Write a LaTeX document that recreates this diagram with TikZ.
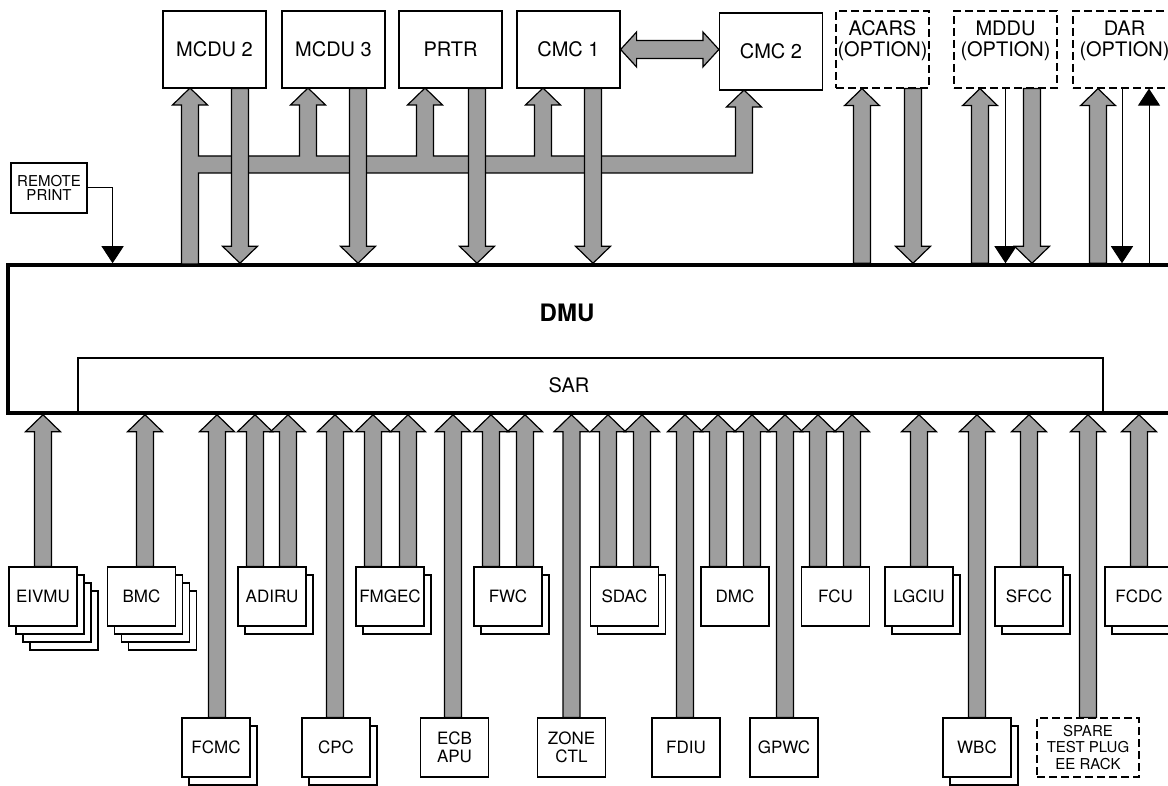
\documentclass[tikz,border=0pt]{standalone}
\usepackage{fontspec}
\setmainfont{TeX Gyre Heros}
\usetikzlibrary{arrows.meta,calc,shadows}

\tikzset{
  unit/.style={draw, fill=white, line width=1.2pt, inner sep=0pt, align=center},
  topunit/.style={unit, minimum width=103pt, minimum height=77pt, font=\fontsize{20}{19}\selectfont},
  botunit/.style={unit, minimum width=68pt, minimum height=59pt, font=\fontsize{17}{18}\selectfont},
  optunit/.style={dash pattern=on 8pt off 4pt},
  twin/.style={general shadow={shadow xshift=7pt, shadow yshift=-8pt, fill=white, draw}},
  quad/.style={general shadow={shadow xshift=21pt, shadow yshift=-24pt, fill=white, draw},
               general shadow={shadow xshift=14pt, shadow yshift=-16pt, fill=white, draw},
               twin},
  busarrow/.style={draw, fill=black!38, line width=1.2pt, line join=miter},
  sig/.style={line width=1pt, -{Triangle[width=22pt,length=17pt]}},
}

% fat bus arrow: [x offset] tail, tip
\newcommand\fatarrow[3][0]{%
  \path[busarrow] let \p1=($(#2)+(#1,0)$), \p2=(#3),
      \p3=($(\x1,\y2)!17pt!(\x1,\y1)$) in
    (\x1-8.5pt,\y1) -- (\x1-8.5pt,\y3) -- (\x1-17.5pt,\y3) -- (\x1,\y2)
    -- (\x1+17.5pt,\y3) -- (\x1+8.5pt,\y3) -- (\x1+8.5pt,\y1) -- cycle;}
\newcommand\optlabel[1]{\raisebox{8pt}[\height][\depth]{\begin{tabular}{@{}c@{}}#1\\(OPTION)\end{tabular}}}

\begin{document}
\begin{tikzpicture}[x=1pt,y=-1pt]
\useasboundingbox (0,0) rectangle (1168,786);
\clip (0,0) rectangle (1168,786);

% top row
\node[topunit] (mcdu2) at (214.5,49.5) {MCDU 2};
\node[topunit] (mcdu3) at (333.5,49.5) {MCDU 3};
\node[topunit] (prtr) at (450.5,49.5) {PRTR};
\node[topunit] (cmc1) at (568.5,49.5) {CMC 1};
\node[topunit] (cmc2) at (771,51.5) {CMC 2};
\node[topunit,optunit,minimum width=93pt] (acars) at (882.5,49.5) {\optlabel{ACARS}};
\node[topunit,optunit] (mddu) at (1005.5,49.5) {\optlabel{MDDU}};
\node[topunit,optunit] (dar) at (1124.5,49.5) {\optlabel{DAR}};
\node[unit, minimum width=76pt, minimum height=50pt, font=\fontsize{15}{13.5}\selectfont] (remote) at (49,188) {REMOTE\\PRINT};

% DMU / SAR
\node[draw, line width=3.5pt, minimum width=1200pt, minimum height=148pt, inner sep=0pt] (dmu) at (608,339) {};
\node[draw, line width=1.2pt, minimum width=1025pt, minimum height=55pt, inner sep=0pt] (sar) at (590.5,385.5) {};
\node[font=\fontsize{24}{24}\bfseries\selectfont] (dmulbl) at (567,313) {DMU};
\node[font=\fontsize{20}{20}\selectfont] (sarlbl) at (569,385) {SAR};

% bottom rows
\node[botunit,quad] (eivmu) at (43,596.5) {EIVMU};
\node[botunit,quad] (bmc) at (141.5,596.5) {BMC};
\node[botunit,twin] (fcmc) at (216,747.5) {FCMC};
\node[botunit,twin] (adiru) at (272,596.5) {ADIRU};
\node[botunit,twin] (cpc) at (336,747.5) {CPC};
\node[botunit,twin] (fmgec) at (390,596.5) {FMGEC};
\node[botunit] (ecbapu) at (454.5,747.5) {ECB\\APU};
\node[botunit,twin] (fwc) at (508,596.5) {FWC};
\node[botunit] (zonectl) at (571.5,747.5) {ZONE\\CTL};
\node[botunit,twin] (sdac) at (624.5,596.5) {SDAC};
\node[botunit] (fdiu) at (686,747.5) {FDIU};
\node[botunit] (dmc) at (735,596.5) {DMC};
\node[botunit] (gpwc) at (784,747.5) {GPWC};
\node[botunit] (fcu) at (835.5,596.5) {FCU};
\node[botunit,twin] (lgciu) at (919,596.5) {LGCIU};
\node[botunit,twin] (wbc) at (977,747.5) {WBC};
\node[botunit,twin] (sfcc) at (1029,596.5) {SFCC};
\node[botunit,optunit,minimum width=102pt,font=\fontsize{15}{16.5}\selectfont] (spare) at (1088,747.5) {SPARE\\TEST PLUG\\EE RACK};
\node[botunit,twin] (fcdc) at (1139,596.5) {FCDC};

% common bus to MCDU / PRTR / CMC
\path[busarrow] (181.5,264) -- (181.5,105) -- (172.5,105) -- (190,88) -- (207.5,105) -- (198.5,105)
  -- (198.5,156) -- (299.5,156) -- (299.5,105) -- (290.5,105) -- (308,88) -- (325.5,105) -- (316.5,105)
  -- (316.5,156) -- (416.5,156) -- (416.5,105) -- (407.5,105) -- (425,88) -- (442.5,105) -- (433.5,105)
  -- (433.5,156) -- (534.5,156) -- (534.5,105) -- (525.5,105) -- (543,88) -- (560.5,105) -- (551.5,105)
  -- (551.5,156) -- (735.5,156) -- (735.5,107) -- (726.5,107) -- (744,90) -- (761.5,107) -- (752.5,107)
  -- (752.5,173) -- (198.5,173) -- (198.5,264) -- cycle;

\path[busarrow] let \p1=(cmc1.east), \p2=(cmc2.west) in
  (\x1,\y1) -- (\x1+16pt,\y1+17.5pt) -- (\x1+16pt,\y1+9pt) -- (\x2-16pt,\y1+9pt)
  -- (\x2-16pt,\y1+17.5pt) -- (\x2,\y1) -- (\x2-16pt,\y1-17.5pt) -- (\x2-16pt,\y1-9pt)
  -- (\x1+16pt,\y1-9pt) -- (\x1+16pt,\y1-17.5pt) -- cycle;

% outputs of the DMU
\foreach \u/\dx in {mcdu2/25.5, mcdu3/24.5, prtr/26.5, cmc1/24.5, acars/30.5, mddu/26.5}
  \fatarrow[\dx]{\u.south}{\u.south |- dmu.north};
\foreach \u/\dx in {acars/-20.5, mddu/-25.5, dar/-26.5}
  \fatarrow[\dx]{\u.south |- dmu.north}{\u.south};

\draw[sig] (remote.east) -| ($(remote.east |- dmu.north)+(25,0)$);
\draw[sig] (mddu.south) -- (mddu.south |- dmu.north);
\draw[sig] ($(dar.south)+(-2.5,0)$) -- ($(dar.south |- dmu.north)+(-2.5,0)$);
\draw[sig] ($(dar.south |- dmu.north)+(24.5,0)$) -- ($(dar.south)+(24.5,0)$);

% inputs to the SAR
\foreach \u/\dx in {eivmu/0, bmc/3.5, fcmc/1, adiru/-17, adiru/16, cpc/-1, fmgec/-17, fmgec/18,
    ecbapu/-1.5, fwc/-17, fwc/17, zonectl/0, sdac/-16.5, sdac/17.5, fdiu/-1, dmc/-17, dmc/17,
    gpwc/1, fcu/-17.5, fcu/16.5, lgciu/0, wbc/0, sfcc/0, spare/0, fcdc/0}
  \fatarrow[\dx]{\u.north}{\u.north |- dmu.south};
\end{tikzpicture}
\end{document}
